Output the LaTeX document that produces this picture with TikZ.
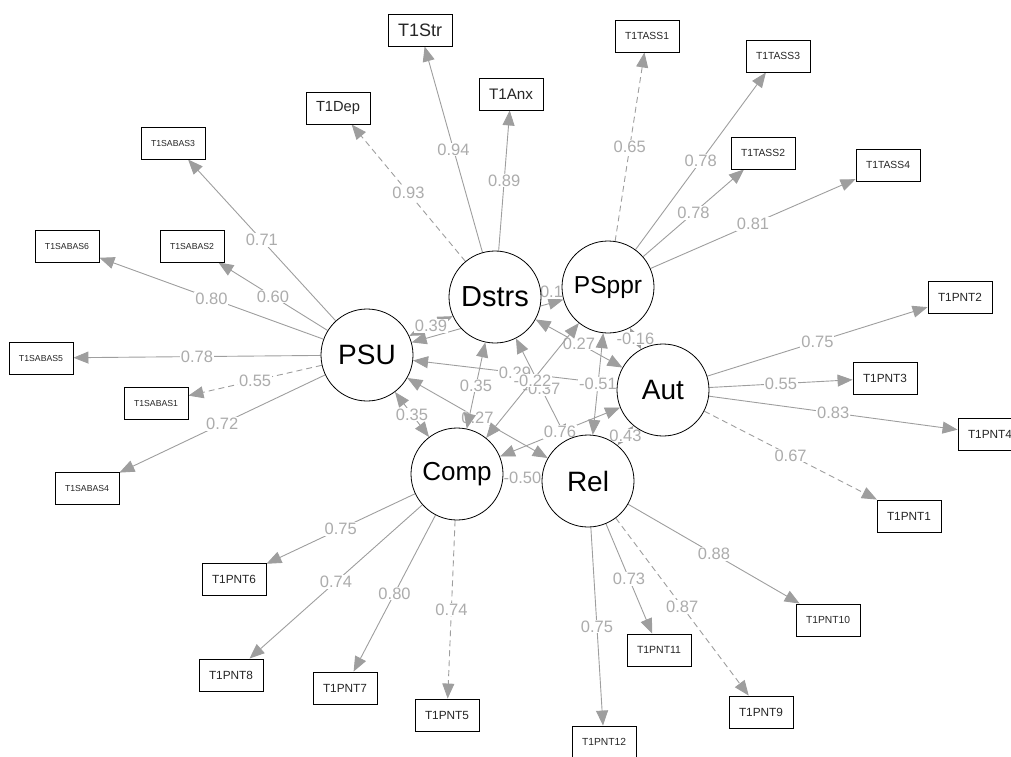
\documentclass[tikz,border=0pt]{standalone}
\usepackage{fontspec}
\usepackage{graphicx}
\setmainfont{Liberation Sans}
\usetikzlibrary{arrows.meta,backgrounds}

\definecolor{edgegray}{RGB}{158,158,158}
\definecolor{labelgray}{RGB}{172,172,172}
\newcommand{\fitname}[1]{\resizebox{44pt}{!}{#1}}

\tikzset{
  latent/.style={circle, draw, line width=0.8pt, fill=white, minimum size=92pt, inner sep=0pt,
    font=\fontsize{28}{28}\selectfont},
  manifest/.style={rectangle, draw, line width=0.9pt, fill=white, minimum width=64pt,
    minimum height=32pt, inner sep=0pt, text=black!85},
  load/.style={draw=edgegray, line width=0.9pt, -{Triangle[length=15pt,width=12pt]}},
  cov/.style={draw=edgegray, line width=0.9pt,
    {Triangle[length=15pt,width=12pt]}-{Triangle[length=15pt,width=12pt]}},
  fixed/.style={dash pattern=on 6pt off 4pt},
  est/.style={fill=white, text=labelgray, inner sep=1pt, font=\fontsize{16.5}{16.5}\selectfont}
}

\begin{document}
\begin{tikzpicture}[x=1pt, y=-1pt]
        \useasboundingbox (0,0) rectangle (1011,756);

        % Fattori latenti
        \node[latent] (PSU) at (367,355) {PSU};
        \node[latent, font=\fontsize{29}{29}\selectfont] (Dstrs) at (495,297) {Dstrs};
        \node[latent, font=\fontsize{24.5}{24.5}\selectfont] (PSppr) at (608,287) {PSppr};
        \node[latent] (Aut) at (663,390) {Aut};
        \node[latent, font=\fontsize{26}{26}\selectfont] (Comp) at (457,474) {Comp};
        \node[latent] (Rel) at (588,481) {Rel};

        % Indicatori
        \node[manifest] (T1Str) at (420,30) {\fitname{T1Str}};
        \node[manifest] (T1Anx) at (511,94) {\fitname{T1Anx}};
        \node[manifest] (T1Dep) at (338,108) {\fitname{T1Dep}};

        \node[manifest] (T1TASS1) at (647,36) {\fitname{T1TASS1}};
        \node[manifest] (T1TASS3) at (778,56) {\fitname{T1TASS3}};
        \node[manifest] (T1TASS2) at (763,153) {\fitname{T1TASS2}};
        \node[manifest] (T1TASS4) at (888,165) {\fitname{T1TASS4}};

        \node[manifest] (T1PNT2) at (960,297) {\fitname{T1PNT2}};
        \node[manifest] (T1PNT3) at (885,378) {\fitname{T1PNT3}};
        \node[manifest] (T1PNT4) at (990,434) {\fitname{T1PNT4}};
        \node[manifest] (T1PNT1) at (909,516) {\fitname{T1PNT1}};

        \node[manifest] (T1PNT10) at (828,620) {\fitname{T1PNT10}};
        \node[manifest] (T1PNT9) at (761,712) {\fitname{T1PNT9}};
        \node[manifest] (T1PNT11) at (659,650) {\fitname{T1PNT11}};
        \node[manifest] (T1PNT12) at (604,742) {\fitname{T1PNT12}};

        \node[manifest] (T1PNT5) at (447,715) {\fitname{T1PNT5}};
        \node[manifest] (T1PNT7) at (345,688) {\fitname{T1PNT7}};
        \node[manifest] (T1PNT8) at (231,675) {\fitname{T1PNT8}};
        \node[manifest] (T1PNT6) at (234,579) {\fitname{T1PNT6}};

        \node[manifest] (T1SABAS3) at (173,143) {\fitname{T1SABAS3}};
        \node[manifest] (T1SABAS6) at (67,246) {\fitname{T1SABAS6}};
        \node[manifest] (T1SABAS2) at (192,246) {\fitname{T1SABAS2}};
        \node[manifest] (T1SABAS5) at (41,358) {\fitname{T1SABAS5}};
        \node[manifest] (T1SABAS1) at (156,403) {\fitname{T1SABAS1}};
        \node[manifest] (T1SABAS4) at (87,488) {\fitname{T1SABAS4}};

        \begin{pgfonlayer}{background}
        % Saturazioni
        \draw[load, fixed] (Dstrs) -- (T1Dep) node[est, midway] {0.93};
        \draw[load] (Dstrs) -- (T1Str) node[est, midway] {0.94};
        \draw[load] (Dstrs) -- (T1Anx) node[est, midway] {0.89};

        \draw[load, fixed] (PSppr) -- (T1TASS1) node[est, midway] {0.65};
        \draw[load] (PSppr) -- (T1TASS3) node[est, midway] {0.78};
        \draw[load] (PSppr) -- (T1TASS2) node[est, midway] {0.78};
        \draw[load] (PSppr) -- (T1TASS4) node[est, midway] {0.81};

        \draw[load] (Aut) -- (T1PNT2) node[est, midway] {0.75};
        \draw[load] (Aut) -- (T1PNT3) node[est, midway] {0.55};
        \draw[load] (Aut) -- (T1PNT4) node[est, midway] {0.83};
        \draw[load, fixed] (Aut) -- (T1PNT1) node[est, midway] {0.67};

        \draw[load] (Rel) -- (T1PNT10) node[est, midway] {0.88};
        \draw[load, fixed] (Rel) -- (T1PNT9) node[est, midway] {0.87};
        \draw[load] (Rel) -- (T1PNT11) node[est, midway] {0.73};
        \draw[load] (Rel) -- (T1PNT12) node[est, midway] {0.75};

        \draw[load] (Comp) -- (T1PNT6) node[est, midway] {0.75};
        \draw[load] (Comp) -- (T1PNT8) node[est, midway] {0.74};
        \draw[load] (Comp) -- (T1PNT7) node[est, midway] {0.80};
        \draw[load, fixed] (Comp) -- (T1PNT5) node[est, midway] {0.74};

        \draw[load] (PSU) -- (T1SABAS3) node[est, midway] {0.71};
        \draw[load] (PSU) -- (T1SABAS2) node[est, midway] {0.60};
        \draw[load] (PSU) -- (T1SABAS6) node[est, midway] {0.80};
        \draw[load] (PSU) -- (T1SABAS5) node[est, midway] {0.78};
        \draw[load, fixed] (PSU) -- (T1SABAS1) node[est, midway] {0.55};
        \draw[load] (PSU) -- (T1SABAS4) node[est, midway] {0.72};

        % Covarianze tra fattori
        \draw[cov] (PSU) -- (PSppr);
        \draw[cov] (PSU) -- (Dstrs) node[est, midway] {0.39};
        \draw[cov] (PSU) -- (Aut) node[est, midway] {0.29};
        \draw[cov] (PSU) -- (Comp) node[est, midway] {0.35};
        \draw[cov] (PSU) -- (Rel) node[est, midway] {0.27};
        \draw[cov] (Dstrs) -- (PSppr) node[est, midway] {0.1};
        \draw[cov] (Dstrs) -- (Aut) node[est, midway] {0.27};
        \draw[cov] (Dstrs) -- (Comp) node[est, midway] {0.35};
        \draw[cov] (Dstrs) -- (Rel) node[est, midway] {-0.37};
        \draw[cov] (PSppr) -- (Aut) node[est, midway] {-0.16};
        \draw[cov] (PSppr) -- (Comp) node[est, midway] {-0.22};
        \draw[cov] (PSppr) -- (Rel) node[est, midway] {-0.51};
        \draw[cov] (Aut) -- (Comp) node[est, midway] {0.76};
        \draw[cov] (Aut) -- (Rel) node[est, midway] {0.43};
        \draw[cov] (Comp) -- (Rel) node[est, midway] {-0.50};
        \end{pgfonlayer}
    \end{tikzpicture}
\end{document}
